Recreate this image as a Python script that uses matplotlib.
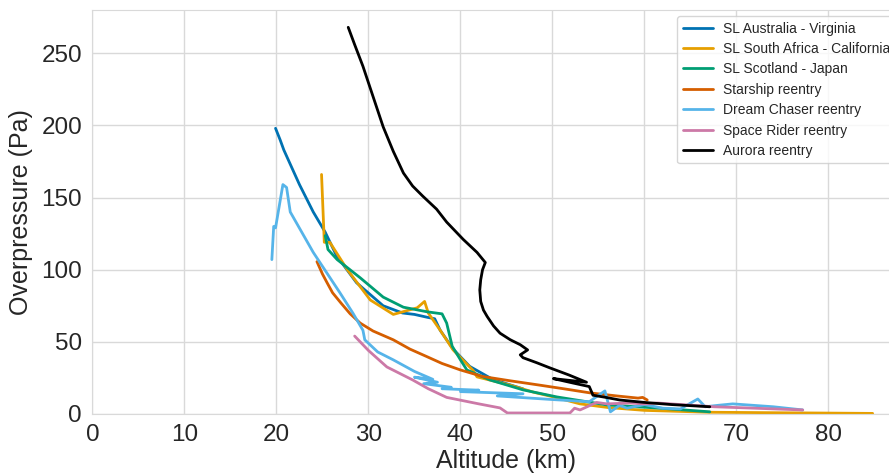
import matplotlib
matplotlib.use("Agg")
import matplotlib.pyplot as plt
import seaborn as sns

sns.set_style("whitegrid")
plt.rcParams['font.family'] = ['Liberation Sans', 'DejaVu Sans']

# ---- data (altitude km, overpressure Pa) ----
aus_alt = [19.9, 20.4, 20.8, 22.5, 24.0, 25.3, 26.5, 28.7, 31.6, 33.7, 35.0, 36.4, 37.2, 37.8, 39.2, 41.0, 43.5, 46.8]
aus_p   = [198, 190, 183, 159, 140, 126, 110, 91, 75, 70, 69, 67, 66, 58, 45, 33, 24, 17.4]

saf_alt = [24.9, 25.2, 25.8, 27.7, 30.2, 32.7, 35.3, 36.1, 36.5, 37.8, 39.2, 41.0, 41.4, 41.8, 45.4, 48.0, 50.0, 53.0, 56.0, 60.0, 67.0, 78.0, 84.8]
saf_p   = [166, 119, 119, 100, 79, 69, 73.6, 78, 70, 58, 44.4, 32.6, 30, 25.7, 20, 15, 12, 7, 4.5, 2.5, 1.2, 0.7, 0.4]

sco_alt = [25.3, 25.6, 26.6, 29.1, 31.6, 33.8, 36.4, 38.0, 38.5, 39.1, 40.0, 40.7, 43.2, 46.8, 50.5, 55.9, 61.7, 67.1]
sco_p   = [123.6, 114, 107, 94.4, 81, 74, 70.8, 69.4, 63, 47, 37.5, 30.5, 23.6, 16.7, 11.8, 6.3, 4, 1.5]

star_alt = [24.4, 25.0, 25.5, 26.1, 27.0, 28.0, 29.1, 30.5, 32.7, 34.5, 36.4, 38.0, 40.0, 42.4, 45.4, 48.6, 51.5, 54.1, 57.0, 59.3, 59.8, 60.3]
star_p   = [105.6, 97, 91, 84, 77, 69.5, 63, 57.5, 51.4, 45, 39.6, 35, 30.5, 26, 23, 20, 17.2, 14.6, 12.5, 11.0, 11.5, 9.7]

dc_alt = [19.5, 19.7, 19.9, 20.7, 21.1, 21.5, 24.0, 26.9, 28.3, 29.4, 29.6, 31.0, 32.7, 35.0, 37.0, 35.0, 37.5, 36.0, 39.0, 38.0, 42.0, 40.0, 46.8,
          44.0, 50.0, 54.0, 55.7, 56.3, 57.3, 58.1, 60.0, 62.0, 63.9, 65.8, 66.6, 68.0, 69.6, 74.0, 77.2]
dc_p   = [107, 130, 129, 159, 157, 140, 112, 84, 70, 58, 51.4, 43, 37.5, 29.5, 24, 25.5, 22, 21, 18.5, 17.5, 16.5, 15.5, 14,
          12.5, 10, 8.5, 16, 1.5, 6, 4, 6.5, 4, 3.5, 10.4, 5, 6, 7, 5, 2.8]

sr_alt = [28.5, 30.0, 32.0, 34.8, 36.5, 38.5, 42.0, 44.3, 45.1, 51.9, 52.4, 53.0, 54.8, 55.9, 58.4, 59.9, 61.4, 67.6, 77.2]
sr_p   = [54, 44, 32.6, 23.6, 17.5, 11.5, 7, 4.2, 0.7, 0.7, 4, 2.8, 8, 7, 7.6, 7, 7.6, 5, 2.8]

aur_alt = [27.8, 28.5, 29.4, 30.5, 31.6, 32.7, 33.8, 34.8, 35.9, 37.4, 38.5, 40.3, 41.8, 42.7, 42.4, 42.2, 42.1, 42.2, 42.5, 42.9, 43.6, 44.3, 45.4, 46.5, 47.3,
           46.5, 46.8, 48.3, 49.7, 51.8, 53.7, 50.1, 52.2, 54.0, 54.3, 54.4, 55.8, 57.3, 60.0, 63.0, 67.1]
aur_p   = [268, 256, 241, 220, 199, 182, 167, 158, 151, 142, 133, 121, 112, 105, 100, 93, 86, 78, 72, 67.6, 61, 56, 51.5, 48, 44.4,
           41, 39, 35.5, 32, 27, 22, 24.5, 21.5, 19, 14.6, 13, 11.5, 9.7, 8, 6.5, 5]

series = [
    ("SL Australia - Virginia", aus_alt, aus_p, "#0072B2"),
    ("SL South Africa - California", saf_alt, saf_p, "#E69F00"),
    ("SL Scotland - Japan", sco_alt, sco_p, "#009E73"),
    ("Starship reentry", star_alt, star_p, "#D55E00"),
    ("Dream Chaser reentry", dc_alt, dc_p, "#56B4E9"),
    ("Space Rider reentry", sr_alt, sr_p, "#CC79A7"),
    ("Aurora reentry", aur_alt, aur_p, "#000000"),
]

x_ticks = [0, 10, 20, 30, 40, 50, 60, 70, 80]
y_ticks = [0, 50, 100, 150, 200, 250]

fig = plt.figure(figsize=(8.89, 4.76), dpi=100)
ax = fig.add_axes([0.104, 0.1303, 0.9314, 0.8487])

for label, xs, ys, col in series:
    ax.plot(xs, ys, color=col, lw=2.0, label=label,
            solid_joinstyle='round', solid_capstyle='round')

ax.set_xlim(0, 90)
ax.set_ylim(0, 280)
ax.set_xticks(x_ticks)
ax.set_yticks(y_ticks)
ax.tick_params(axis='both', labelsize=17.5, colors='#262626', pad=4)
ax.set_xlabel("Altitude (km)", fontsize=18, color='#262626', labelpad=2)
ax.set_ylabel("Overpressure (Pa)", fontsize=18, color='#262626', labelpad=6)
ax.grid(True, color='#d9d9d9', lw=1)
for s in ax.spines.values():
    s.set_color('#d9d9d9')

leg = ax.legend(loc='upper left', bbox_to_anchor=(677/889, 1 - 16/476),
                bbox_transform=fig.transFigure, borderaxespad=0,
                fontsize=10, handlelength=2.2, handletextpad=0.7,
                labelspacing=0.46, frameon=True, fancybox=True)
leg.get_frame().set_edgecolor('#cccccc')
for t in leg.get_texts():
    t.set_color('#262626')

fig.savefig("out.png", dpi=100)
